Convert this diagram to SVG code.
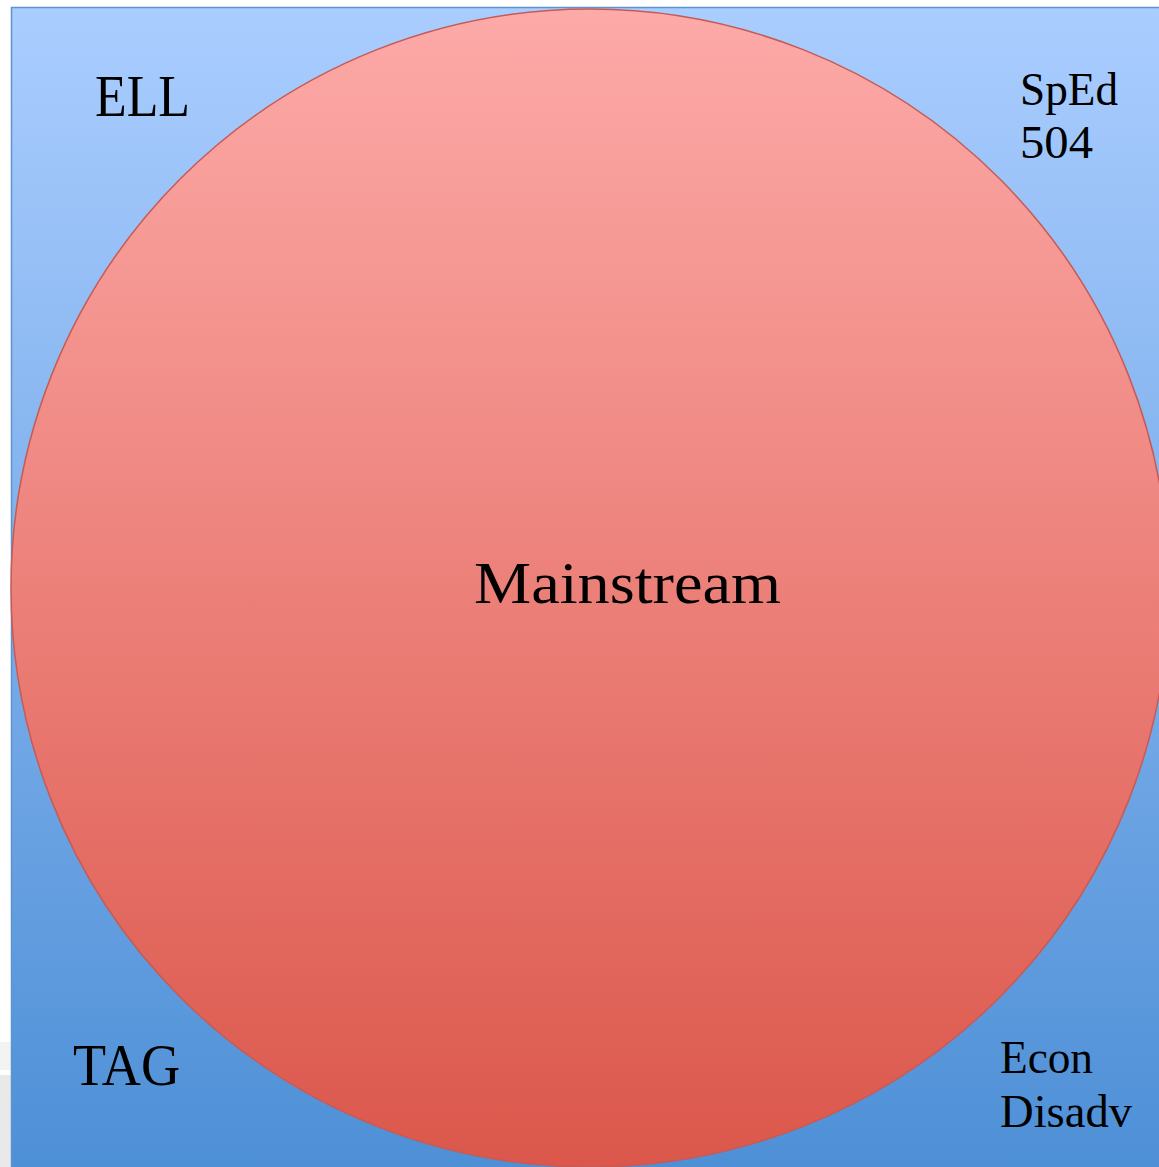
<svg xmlns="http://www.w3.org/2000/svg" width="1159" height="1167" viewBox="0 0 1159 1167">
<defs>
<linearGradient id="bg" x1="0" y1="0" x2="0" y2="1">
<stop offset="0" stop-color="#aacdff"/>
<stop offset="1" stop-color="#4d8fd6"/>
</linearGradient>
<linearGradient id="cg" x1="0" y1="0" x2="0" y2="1">
<stop offset="0" stop-color="#fdaaa8"/>
<stop offset="1" stop-color="#db574b"/>
</linearGradient>
<style>
.lbl{font-family:"Liberation Serif","DejaVu Serif",serif;fill:#000;}
</style>
</defs>
<rect x="0" y="0" width="1159" height="1167" fill="#ffffff"/>
<rect x="0" y="1042" width="11" height="28" fill="#f3f3f3"/>
<rect x="0" y="1075" width="11" height="92" fill="#e9e9e9"/>
<g id="background">
<rect x="11.5" y="7.5" width="1160" height="1170" fill="url(#bg)" stroke="#5e93cf" stroke-width="1.5"/>
</g>
<g id="mainstream">
<circle cx="590" cy="588" r="579" fill="url(#cg)" stroke="#c85a54" stroke-width="1.5"/>
<text class="lbl" x="474" y="603" font-size="60" textLength="307" lengthAdjust="spacingAndGlyphs">Mainstream</text>
</g>
<g id="ell">
<text class="lbl" x="95" y="116" font-size="59" textLength="95" lengthAdjust="spacingAndGlyphs">ELL</text>
</g>
<g id="sped">
<text class="lbl" x="1020" y="105" font-size="47" textLength="98" lengthAdjust="spacingAndGlyphs">SpEd</text>
<text class="lbl" x="1020" y="158" font-size="47" textLength="73" lengthAdjust="spacingAndGlyphs">504</text>
</g>
<g id="tag">
<text class="lbl" x="73" y="1085" font-size="59" textLength="107" lengthAdjust="spacingAndGlyphs">TAG</text>
</g>
<g id="econ">
<text class="lbl" x="1000" y="1073" font-size="46" textLength="93" lengthAdjust="spacingAndGlyphs">Econ</text>
<text class="lbl" x="1000" y="1127" font-size="46" textLength="132" lengthAdjust="spacingAndGlyphs">Disadv</text>
</g>
<g id="connectors"/>
</svg>
